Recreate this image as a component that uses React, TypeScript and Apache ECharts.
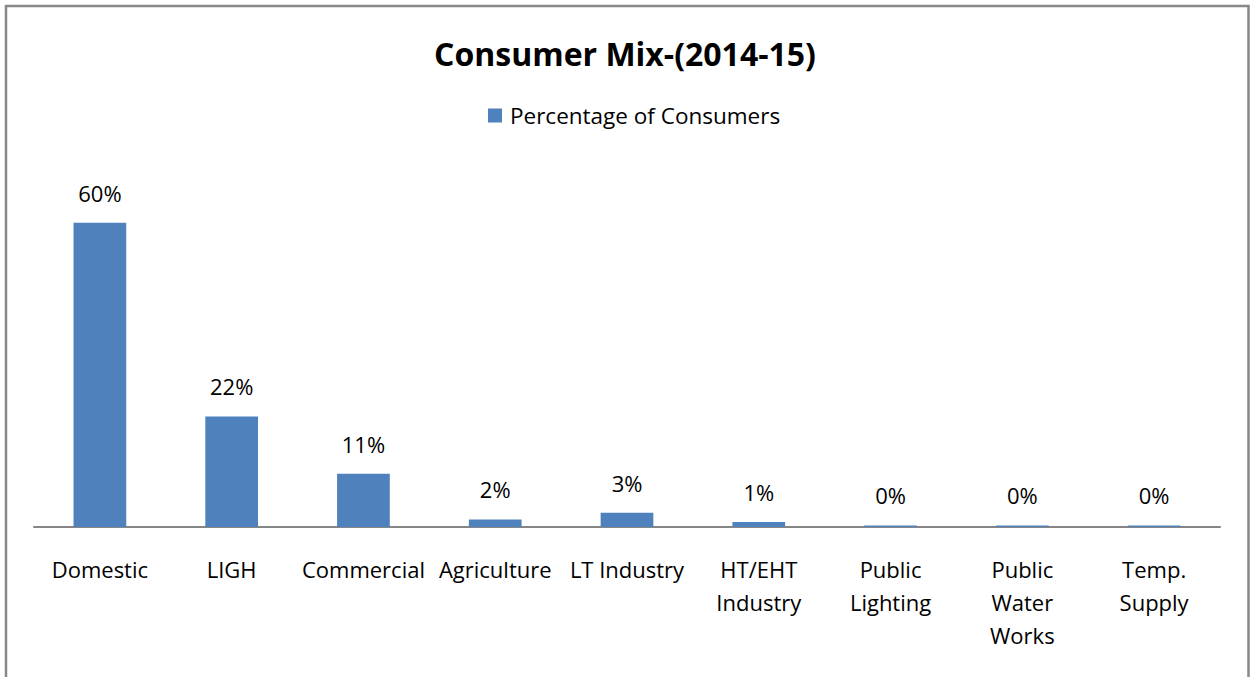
import React, { useEffect, useRef } from "react";
import * as echarts from "echarts";

const titleText = "Consumer Mix-(2014-15)";
const seriesName = "Percentage of Consumers";
const categories = [
  "Domestic",
  "LIGH",
  "Commercial",
  "Agriculture",
  "LT Industry",
  "HT/EHT\nIndustry",
  "Public\nLighting",
  "Public\nWater\nWorks",
  "Temp.\nSupply",
];
const values = [60, 21.8, 10.5, 1.5, 2.8, 1.0, 0.3, 0.3, 0.3];
const valueLabels = ["60%", "22%", "11%", "2%", "3%", "1%", "0%", "0%", "0%"];

const FONT = "'Open Sans', 'Noto Sans', sans-serif";

export default function App() {
  const ref = useRef<HTMLDivElement>(null);
  useEffect(() => {
    if (!ref.current) return;
    const chart = echarts.init(ref.current, undefined, { renderer: "svg" });
    chart.setOption({
      animation: false,
      backgroundColor: "#ffffff",
      title: {
        text: titleText,
        left: "center",
        top: 32,
        textStyle: {
          fontFamily: FONT,
          fontSize: 32,
          fontWeight: "bold",
          color: "#000000",
        },
      },
      legend: {
        data: [seriesName],
        left: 483,
        top: 99,
        icon: "rect",
        itemWidth: 14,
        itemHeight: 14,
        textStyle: {
          fontFamily: FONT,
          fontSize: 22.5,
          color: "#000000",
          padding: [0, 0, 0, 3],
        },
      },
      graphic: [
        {
          type: "rect",
          shape: { x: 6, y: 6, width: 1242.5, height: 720 },
          style: { fill: "none", stroke: "#888888", lineWidth: 2.5 },
          silent: true,
          z: 100,
        },
      ],
      grid: { left: 34, right: 30, top: 172, bottom: 150, containLabel: false },
      xAxis: {
        type: "category",
        data: categories,
        axisLine: { show: true, lineStyle: { color: "#868686", width: 2 } },
        axisTick: { show: false },
        axisLabel: {
          interval: 0,
          margin: 25,
          fontFamily: FONT,
          fontSize: 22,
          lineHeight: 33,
          color: "#000000",
        },
      },
      yAxis: {
        type: "value",
        min: 0,
        max: 70,
        show: false,
        splitLine: { show: false },
      },
      series: [
        {
          name: seriesName,
          type: "bar",
          data: values,
          barWidth: "40%",
          itemStyle: { color: "#4F81BD" },
          label: {
            show: true,
            position: "top",
            distance: 19,
            fontFamily: FONT,
            fontSize: 22,
            color: "#000000",
            formatter: (p: any) => valueLabels[p.dataIndex],
          },
        },
      ],
    });
    return () => chart.dispose();
  }, []);
  return (
    <div
      ref={ref}
      style={{ position: "absolute", left: 0, top: 0, width: 1250, height: 677 }}
    />
  );
}
